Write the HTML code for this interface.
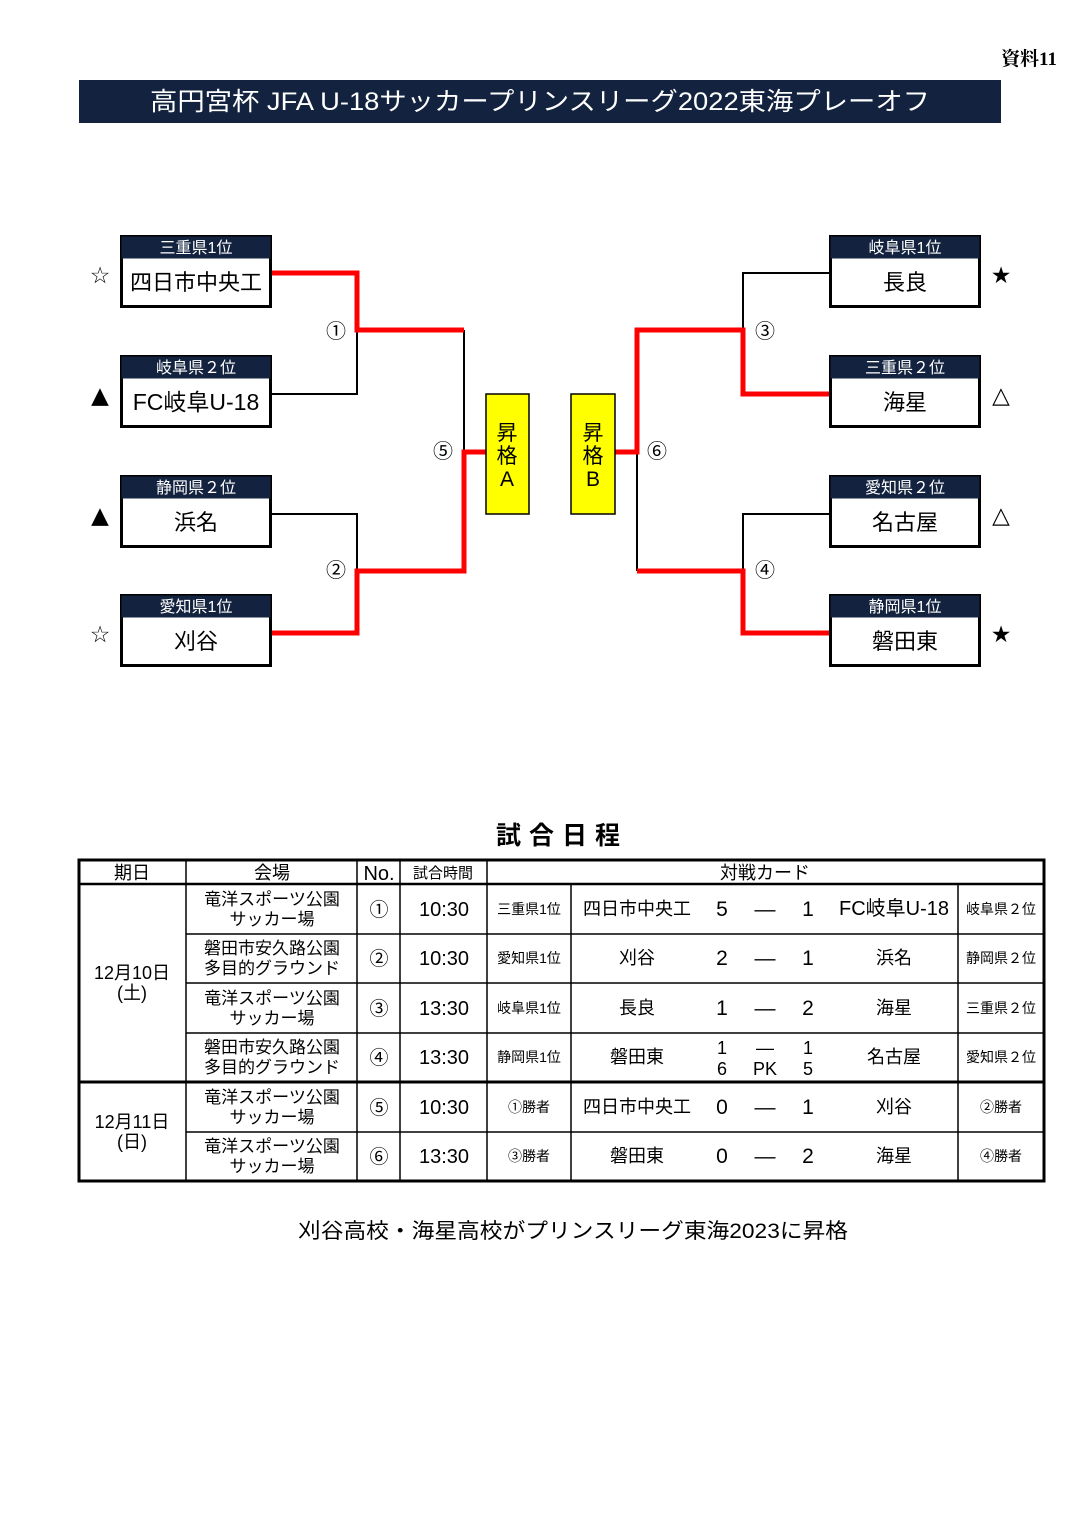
<!DOCTYPE html>
<html><head><meta charset="utf-8"><style>
html,body{margin:0;padding:0;background:#fff;}
svg{display:block;font-family:"Liberation Sans","Noto Sans CJK JP",sans-serif;}
</style></head><body>
<svg width="1086" height="1536" viewBox="0 0 1086 1536" xmlns="http://www.w3.org/2000/svg">
<rect width="1086" height="1536" fill="#fff"/>
<text x="1057" y="65" text-anchor="end" font-size="19" font-family="'Liberation Serif','Noto Serif CJK SC',serif" font-weight="bold">資料11</text>
<rect x="79" y="80" width="922" height="43" fill="#13233f"/>
<text x="150" y="110" font-size="25" fill="#fff" textLength="780" lengthAdjust="spacingAndGlyphs">高円宮杯 JFA U-18サッカープリンスリーグ2022東海プレーオフ</text>

<g stroke="#000" stroke-width="2" fill="none">
<polyline points="272,394 357,394 357,330"/>
<polyline points="272,514 357,514 357,571"/>
<line x1="464" y1="330" x2="464" y2="452"/>
<line x1="637" y1="452" x2="637" y2="571"/>
<polyline points="829,273 743,273 743,330"/>
<polyline points="829,514 743,514 743,571"/>
</g>
<g stroke="#f00" stroke-width="5" fill="none" stroke-linejoin="miter">
<polyline points="272,273 357,273 357,330 464,330"/>
<polyline points="272,633 357,633 357,571 464,571 464,452 486,452"/>
<polyline points="615,452 637,452 637,330 743,330 743,394 829,394"/>
<polyline points="637,571 743,571 743,633 829,633"/>
</g>
<g font-size="20" text-anchor="middle">
<text x="336" y="338">①</text><text x="336" y="577">②</text>
<text x="765" y="338">③</text><text x="765" y="577">④</text>
<text x="443" y="458">⑤</text><text x="657" y="458">⑥</text>
</g>
<rect x="486" y="394" width="43" height="120" fill="#ffff00" stroke="#000" stroke-width="1.5"/>
<rect x="571" y="394" width="44" height="120" fill="#ffff00" stroke="#000" stroke-width="1.5"/>
<g font-size="21" text-anchor="middle">
<text x="507" y="440">昇</text><text x="507" y="463">格</text><text x="507" y="486">A</text>
<text x="593" y="440">昇</text><text x="593" y="463">格</text><text x="593" y="486">B</text>
</g>

<g>
<g transform="translate(120,235)"><rect x="1.5" y="1.5" width="149" height="70" fill="#fff" stroke="#000" stroke-width="3"/><rect x="1.5" y="1.5" width="149" height="22" fill="#13233f"/><text x="76" y="18" fill="#fff" font-size="16" text-anchor="middle">三重県1位</text><text x="76" y="55" font-size="22" text-anchor="middle">四日市中央工</text></g>
<g transform="translate(120,355)"><rect x="1.5" y="1.5" width="149" height="70" fill="#fff" stroke="#000" stroke-width="3"/><rect x="1.5" y="1.5" width="149" height="22" fill="#13233f"/><text x="76" y="18" fill="#fff" font-size="16" text-anchor="middle">岐阜県２位</text><text x="76" y="55" font-size="23" text-anchor="middle">FC岐阜U-18</text></g>
<g transform="translate(120,475)"><rect x="1.5" y="1.5" width="149" height="70" fill="#fff" stroke="#000" stroke-width="3"/><rect x="1.5" y="1.5" width="149" height="22" fill="#13233f"/><text x="76" y="18" fill="#fff" font-size="16" text-anchor="middle">静岡県２位</text><text x="76" y="55" font-size="22" text-anchor="middle">浜名</text></g>
<g transform="translate(120,594)"><rect x="1.5" y="1.5" width="149" height="70" fill="#fff" stroke="#000" stroke-width="3"/><rect x="1.5" y="1.5" width="149" height="22" fill="#13233f"/><text x="76" y="18" fill="#fff" font-size="16" text-anchor="middle">愛知県1位</text><text x="76" y="55" font-size="22" text-anchor="middle">刈谷</text></g>
<g transform="translate(829,235)"><rect x="1.5" y="1.5" width="149" height="70" fill="#fff" stroke="#000" stroke-width="3"/><rect x="1.5" y="1.5" width="149" height="22" fill="#13233f"/><text x="76" y="18" fill="#fff" font-size="16" text-anchor="middle">岐阜県1位</text><text x="76" y="55" font-size="22" text-anchor="middle">長良</text></g>
<g transform="translate(829,355)"><rect x="1.5" y="1.5" width="149" height="70" fill="#fff" stroke="#000" stroke-width="3"/><rect x="1.5" y="1.5" width="149" height="22" fill="#13233f"/><text x="76" y="18" fill="#fff" font-size="16" text-anchor="middle">三重県２位</text><text x="76" y="55" font-size="22" text-anchor="middle">海星</text></g>
<g transform="translate(829,475)"><rect x="1.5" y="1.5" width="149" height="70" fill="#fff" stroke="#000" stroke-width="3"/><rect x="1.5" y="1.5" width="149" height="22" fill="#13233f"/><text x="76" y="18" fill="#fff" font-size="16" text-anchor="middle">愛知県２位</text><text x="76" y="55" font-size="22" text-anchor="middle">名古屋</text></g>
<g transform="translate(829,594)"><rect x="1.5" y="1.5" width="149" height="70" fill="#fff" stroke="#000" stroke-width="3"/><rect x="1.5" y="1.5" width="149" height="22" fill="#13233f"/><text x="76" y="18" fill="#fff" font-size="16" text-anchor="middle">静岡県1位</text><text x="76" y="55" font-size="22" text-anchor="middle">磐田東</text></g>
</g>
<g font-size="23" text-anchor="middle" font-family="'DejaVu Sans',sans-serif">
<text x="100" y="283">☆</text><text x="100" y="403">▲</text><text x="100" y="523">▲</text><text x="100" y="642">☆</text>
<text x="1001" y="283">★</text><text x="1001" y="403">△</text><text x="1001" y="523">△</text><text x="1001" y="642">★</text>
</g>

<text x="562" y="844" text-anchor="middle" font-size="25" font-weight="bold" letter-spacing="8">試合日程</text>
<g stroke="#000" fill="none">
<rect x="79" y="860" width="965" height="321" stroke-width="3"/>
<line x1="79" y1="884" x2="1044" y2="884" stroke-width="2.5"/>
<line x1="186" y1="934" x2="1044" y2="934" stroke-width="1.5"/>
<line x1="186" y1="983" x2="1044" y2="983" stroke-width="1.5"/>
<line x1="186" y1="1033" x2="1044" y2="1033" stroke-width="1.5"/>
<line x1="79" y1="1082" x2="1044" y2="1082" stroke-width="3"/>
<line x1="186" y1="1132" x2="1044" y2="1132" stroke-width="1.5"/>
<line x1="186" y1="860" x2="186" y2="1181" stroke-width="1.5"/>
<line x1="357" y1="860" x2="357" y2="1181" stroke-width="1.5"/>
<line x1="400" y1="860" x2="400" y2="1181" stroke-width="1.5"/>
<line x1="487" y1="860" x2="487" y2="1181" stroke-width="1.5"/>
<line x1="571" y1="884" x2="571" y2="1181" stroke-width="1.5"/>
<line x1="958" y1="884" x2="958" y2="1181" stroke-width="1.5"/>
</g>
<g font-size="18" text-anchor="middle">
<text x="132" y="879">期日</text><text x="272" y="879">会場</text><text x="379" y="880" font-size="20">No.</text><text x="443" y="878" font-size="15">試合時間</text><text x="765" y="879">対戦カード</text>
<text x="132" y="979">12月10日</text><text x="132" y="999">(土)</text>
<text x="132" y="1128">12月11日</text><text x="132" y="1148">(日)</text>
</g>
<g font-size="17" text-anchor="middle">
<text x="272" y="905">竜洋スポーツ公園</text><text x="272" y="925">サッカー場</text>
<text x="272" y="954">磐田市安久路公園</text><text x="272" y="974">多目的グラウンド</text>
<text x="272" y="1004">竜洋スポーツ公園</text><text x="272" y="1024">サッカー場</text>
<text x="272" y="1053">磐田市安久路公園</text><text x="272" y="1073">多目的グラウンド</text>
<text x="272" y="1103">竜洋スポーツ公園</text><text x="272" y="1123">サッカー場</text>
<text x="272" y="1152">竜洋スポーツ公園</text><text x="272" y="1172">サッカー場</text>
</g>
<g font-size="19" text-anchor="middle">
<text x="379" y="916">①</text><text x="379" y="965">②</text><text x="379" y="1015">③</text><text x="379" y="1064">④</text><text x="379" y="1114">⑤</text><text x="379" y="1163">⑥</text>
</g>
<g font-size="20" text-anchor="middle">
<text x="444" y="916">10:30</text><text x="444" y="965">10:30</text><text x="444" y="1015">13:30</text><text x="444" y="1064">13:30</text><text x="444" y="1114">10:30</text><text x="444" y="1163">13:30</text>
</g>
<g font-size="14" text-anchor="middle">
<text x="529" y="914">三重県1位</text><text x="529" y="963">愛知県1位</text><text x="529" y="1013">岐阜県1位</text><text x="529" y="1062">静岡県1位</text><text x="529" y="1112">①勝者</text><text x="529" y="1161">③勝者</text>
<text x="1001" y="914">岐阜県２位</text><text x="1001" y="963">静岡県２位</text><text x="1001" y="1013">三重県２位</text><text x="1001" y="1062">愛知県２位</text><text x="1001" y="1112">②勝者</text><text x="1001" y="1161">④勝者</text>
</g>
<g font-size="18" text-anchor="middle">
<text x="637" y="915">四日市中央工</text><text x="637" y="964">刈谷</text><text x="637" y="1014">長良</text><text x="637" y="1063">磐田東</text><text x="637" y="1113">四日市中央工</text><text x="637" y="1162">磐田東</text>
<text x="894" y="915" font-size="20">FC岐阜U-18</text><text x="894" y="964">浜名</text><text x="894" y="1014">海星</text><text x="894" y="1063">名古屋</text><text x="894" y="1113">刈谷</text><text x="894" y="1162">海星</text>
</g>
<g font-size="21" text-anchor="middle">
<text x="722" y="916">5</text><text x="765" y="916">―</text><text x="808" y="916">1</text>
<text x="722" y="965">2</text><text x="765" y="965">―</text><text x="808" y="965">1</text>
<text x="722" y="1015">1</text><text x="765" y="1015">―</text><text x="808" y="1015">2</text>
<text x="722" y="1054" font-size="18">1</text><text x="765" y="1054" font-size="18">―</text><text x="808" y="1054" font-size="18">1</text>
<text x="722" y="1075" font-size="18">6</text><text x="765" y="1075" font-size="18">PK</text><text x="808" y="1075" font-size="18">5</text>
<text x="722" y="1114">0</text><text x="765" y="1114">―</text><text x="808" y="1114">1</text>
<text x="722" y="1163">0</text><text x="765" y="1163">―</text><text x="808" y="1163">2</text>
</g>
<text x="298" y="1238" font-size="21" textLength="550" lengthAdjust="spacingAndGlyphs">刈谷高校・海星高校がプリンスリーグ東海2023に昇格</text>
</svg>
</body></html>
